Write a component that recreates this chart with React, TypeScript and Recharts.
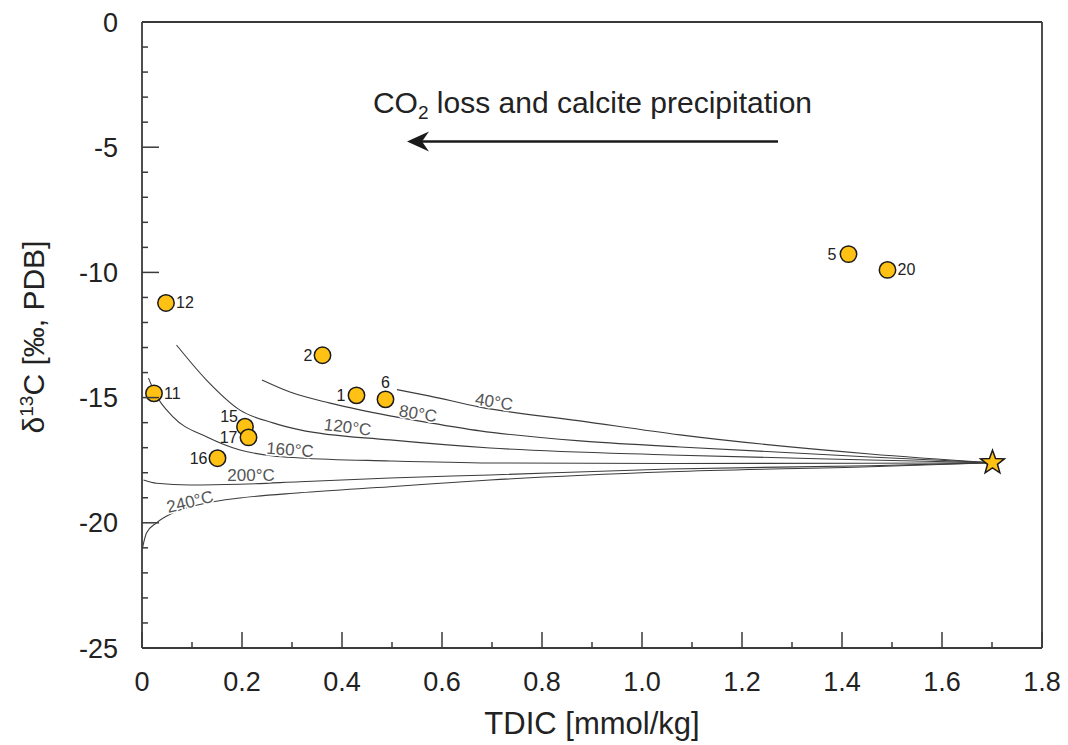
import React from 'react';
import { ComposedChart, XAxis, YAxis, Line, Scatter, ReferenceLine } from 'recharts';

const FONT = '"Liberation Sans", Arial, sans-serif';

// ---------- data ----------
const xTicks = [0, 0.1, 0.2, 0.3, 0.4, 0.5, 0.6, 0.7, 0.8, 0.9, 1.0, 1.1, 1.2, 1.3, 1.4, 1.5, 1.6, 1.7, 1.8];
const yTicks = [-25, -24, -23, -22, -21, -20, -19, -18, -17, -16, -15, -14, -13, -12, -11, -10, -9, -8, -7, -6, -5, -4, -3, -2, -1, 0];

const samples = [
  { id: '1', x: 0.429, y: -14.91 },
  { id: '2', x: 0.361, y: -13.31 },
  { id: '5', x: 1.413, y: -9.27 },
  { id: '6', x: 0.487, y: -15.07 },
  { id: '11', x: 0.024, y: -14.83 },
  { id: '12', x: 0.048, y: -11.22 },
  { id: '15', x: 0.206, y: -16.16 },
  { id: '16', x: 0.151, y: -17.42 },
  { id: '17', x: 0.213, y: -16.59 },
  { id: '20', x: 1.491, y: -9.9 },
];

const initialSolution = [{ x: 1.701, y: -17.6 }];

const curve40 = [
  { x: 0.51, y: -14.68 }, { x: 0.576, y: -14.94 }, { x: 0.676, y: -15.38 }, { x: 0.876, y: -15.93 },
  { x: 1.076, y: -16.49 }, { x: 1.456, y: -17.25 }, { x: 1.701, y: -17.6 },
];
const curve80 = [
  { x: 0.24, y: -14.3 }, { x: 0.296, y: -14.78 }, { x: 0.376, y: -15.22 }, { x: 0.476, y: -15.65 },
  { x: 0.576, y: -16.01 }, { x: 0.676, y: -16.33 }, { x: 0.876, y: -16.73 }, { x: 1.076, y: -16.97 },
  { x: 1.456, y: -17.37 }, { x: 1.701, y: -17.6 },
];
const curve120 = [
  { x: 0.069, y: -12.9 }, { x: 0.129, y: -14.3 }, { x: 0.196, y: -15.5 }, { x: 0.262, y: -16.01 },
  { x: 0.316, y: -16.29 }, { x: 0.496, y: -16.69 }, { x: 0.696, y: -17.01 }, { x: 1.056, y: -17.29 },
  { x: 1.456, y: -17.49 }, { x: 1.701, y: -17.6 },
];
const curve160 = [
  { x: 0.013, y: -14.22 }, { x: 0.026, y: -14.82 }, { x: 0.062, y: -15.77 }, { x: 0.13, y: -16.57 },
  { x: 0.196, y: -17.09 }, { x: 0.262, y: -17.33 }, { x: 0.316, y: -17.41 }, { x: 0.496, y: -17.53 },
  { x: 0.696, y: -17.61 }, { x: 1.056, y: -17.63 }, { x: 1.456, y: -17.62 }, { x: 1.701, y: -17.6 },
];
const curve200 = [
  { x: 0.003, y: -18.29 }, { x: 0.029, y: -18.42 }, { x: 0.096, y: -18.49 }, { x: 0.196, y: -18.46 },
  { x: 0.316, y: -18.36 }, { x: 0.496, y: -18.21 }, { x: 0.696, y: -18.09 }, { x: 1.056, y: -17.85 },
  { x: 1.456, y: -17.72 }, { x: 1.701, y: -17.6 },
];
const curve240 = [
  { x: 0.001, y: -21.0 }, { x: 0.009, y: -20.41 }, { x: 0.029, y: -20.0 }, { x: 0.062, y: -19.6 },
  { x: 0.129, y: -19.21 }, { x: 0.196, y: -19.01 }, { x: 0.316, y: -18.8 }, { x: 0.496, y: -18.56 },
  { x: 0.696, y: -18.29 }, { x: 1.056, y: -17.96 }, { x: 1.456, y: -17.76 }, { x: 1.701, y: -17.6 },
];
const curves = [curve40, curve80, curve120, curve160, curve200, curve240];

const curveLabels = [
  { text: '40°C', x: 0.704, y: -15.18 },
  { text: '80°C', x: 0.552, y: -15.65 },
  { text: '120°C', x: 0.411, y: -16.19 },
  { text: '160°C', x: 0.296, y: -17.09 },
  { text: '200°C', x: 0.218, y: -18.13 },
  { text: '240°C', x: 0.096, y: -19.17 },
];

const arrowSegment = [
  { x: 1.272, y: -4.77 },
  { x: 0.53, y: -4.77 },
];

// ---------- styles ----------
const curveLabelAngle: Record<string, number> = {
  '40°C': 9, '80°C': 9, '120°C': 7, '160°C': 4, '200°C': 0, '240°C': -14,
};
const labelPlacement: Record<string, [number, number, 'start' | 'middle' | 'end']> = {
  '1': [-11, 5.5, 'end'],
  '2': [-10, 5.5, 'end'],
  '5': [-12, 5.5, 'end'],
  '6': [0, -11.5, 'middle'],
  '11': [10, 5.5, 'start'],
  '12': [10, 5.5, 'start'],
  '15': [-7, -4.5, 'end'],
  '16': [-10, 5.5, 'end'],
  '17': [-11, 5.5, 'end'],
  '20': [10, 5.5, 'start'],
};
const AXIS = '#3a3a3a';
const GOLD = '#FFC114';

const XTick = (props: any) => {
  const { x, y, payload } = props;
  const v = payload.value as number;
  const major = Math.round(v * 10) % 2 === 0;
  return (
    <g>
      <line x1={x} x2={x} y1={y} y2={y - (major ? 16 : 6)} stroke={AXIS} strokeWidth={1.5} />
      {major && (
        <text x={x} y={y + 43} textAnchor="middle" fontSize={27} fill="#222" fontFamily={FONT}>
          {v === 0 ? '0' : v.toFixed(1)}
        </text>
      )}
    </g>
  );
};

const YTick = (props: any) => {
  const { x, y, payload } = props;
  const v = payload.value as number;
  const major = Math.round(v) % 5 === 0;
  return (
    <g>
      <line x1={x} x2={x + (major ? 17 : 6)} y1={y} y2={y} stroke={AXIS} strokeWidth={1.5} />
      {major && (
        <text x={x - 24} y={y + 9.5} textAnchor="end" fontSize={27} fill="#222" fontFamily={FONT}>
          {String(v)}
        </text>
      )}
    </g>
  );
};

const SampleShape = (props: any) => {
  const { cx, cy, payload } = props;
  const p = labelPlacement[payload.id] || [10, 5.5, 'start'];
  return (
    <g>
      <circle cx={cx} cy={cy} r={8.2} fill={GOLD} stroke="#1a1a1a" strokeWidth={1.5} />
      <text x={cx + p[0]} y={cy + p[1]} textAnchor={p[2]} fontSize={16} fill="#222" fontFamily={FONT}>
        {payload.id}
      </text>
    </g>
  );
};

const StarShape = (props: any) => {
  const { cx, cy } = props;
  const R = 12.5;
  const r = 5.2;
  const pts: string[] = [];
  for (let i = 0; i < 10; i++) {
    const a = -Math.PI / 2 + (i * Math.PI) / 5;
    const rad = i % 2 === 0 ? R : r;
    pts.push(`${cx + rad * Math.cos(a)},${cy + rad * Math.sin(a)}`);
  }
  return <polygon points={pts.join(' ')} fill={GOLD} stroke="#1a1a1a" strokeWidth={1.5} strokeLinejoin="miter" />;
};

const CurveLabelShape = (props: any) => {
  const { cx, cy, payload } = props;
  const a = curveLabelAngle[payload.text] || 0;
  return (
    <text
      x={cx}
      y={cy}
      textAnchor="middle"
      dominantBaseline="central"
      transform={`rotate(${a} ${cx} ${cy})`}
      fontSize={17}
      fill="#555"
      stroke="#fff"
      strokeWidth={3}
      paintOrder="stroke"
      fontFamily={FONT}
    >
      {payload.text}
    </text>
  );
};

const ArrowShape = (props: any) => {
  const { x1, y1, x2, y2 } = props;
  const tipX = Math.min(x1, x2);
  const tailX = Math.max(x1, x2);
  const y = (y1 + y2) / 2;
  const midX = (tipX + tailX) / 2;
  return (
    <g>
      <line x1={tailX} x2={tipX + 14} y1={y} y2={y} stroke="#1a1a1a" strokeWidth={2.6} />
      <path
        d={`M ${tipX} ${y} L ${tipX + 22} ${y - 10} L ${tipX + 15} ${y} L ${tipX + 22} ${y + 10} Z`}
        fill="#1a1a1a"
      />
      <text x={midX} y={y - 28.5} textAnchor="middle" fontSize={30} fill="#222" fontFamily={FONT}>
        CO
        <tspan fontSize={19} dy={6}>2</tspan>
        <tspan dy={-6}> loss and calcite precipitation</tspan>
      </text>
    </g>
  );
};

const XLabel = (props: any) => {
  const vb = props.viewBox;
  return (
    <text x={vb.x + vb.width / 2} y={vb.y + 86} textAnchor="middle" fontSize={31} fill="#222" fontFamily={FONT}>
      TDIC [mmol/kg]
    </text>
  );
};

const YLabel = (props: any) => {
  const vb = props.viewBox;
  const cx = vb.x + 36;
  const cy = vb.y + vb.height / 2 + 2;
  return (
    <text x={cx} y={cy} textAnchor="middle" fontSize={30} fill="#222" fontFamily={FONT} transform={`rotate(-90 ${cx} ${cy})`}>
      δ<tspan fontSize={19} dy={-11}>13</tspan>
      <tspan dy={11}>C [‰, PDB]</tspan>
    </text>
  );
};

export default function App() {
  return (
    <ComposedChart width={1060} height={737} margin={{ top: 14, right: 26, bottom: 0, left: 0 }}>
      <XAxis
        dataKey="x"
        type="number"
        domain={[0, 1.8]}
        ticks={xTicks}
        interval={0}
        tickSize={0}
        tickMargin={0}
        tickLine={false}
        tick={(p: any) => <XTick {...p} />}
        axisLine={{ stroke: AXIS, strokeWidth: 1.8 }}
        height={97}
        allowDataOverflow
        label={{ content: (p: any) => <XLabel {...p} /> }}
      />
      <YAxis
        dataKey="y"
        type="number"
        domain={[-25, 0]}
        ticks={yTicks}
        interval={0}
        tickSize={0}
        tickMargin={0}
        tickLine={false}
        tick={(p: any) => <YTick {...p} />}
        axisLine={{ stroke: AXIS, strokeWidth: 1.8 }}
        width={134}
        allowDataOverflow
        label={{ content: (p: any) => <YLabel {...p} /> }}
      />
      <ReferenceLine y={0} stroke={AXIS} strokeWidth={1.8} />
      <ReferenceLine x={1.8} stroke={AXIS} strokeWidth={1.8} />
      {curves.map((c, i) => (
        <Line
          key={i}
          data={c}
          dataKey="y"
          type="monotone"
          stroke="#3c3c3c"
          strokeWidth={1.1}
          dot={false}
          activeDot={false}
          isAnimationActive={false}
        />
      ))}
      <Scatter data={curveLabels} dataKey="y" shape={(p: any) => <CurveLabelShape {...p} />} isAnimationActive={false} />
      <ReferenceLine segment={arrowSegment} shape={(p: any) => <ArrowShape {...p} />} />
      <Scatter data={samples} dataKey="y" shape={(p: any) => <SampleShape {...p} />} isAnimationActive={false} />
      <Scatter data={initialSolution} dataKey="y" shape={(p: any) => <StarShape {...p} />} isAnimationActive={false} />
    </ComposedChart>
  );
}
